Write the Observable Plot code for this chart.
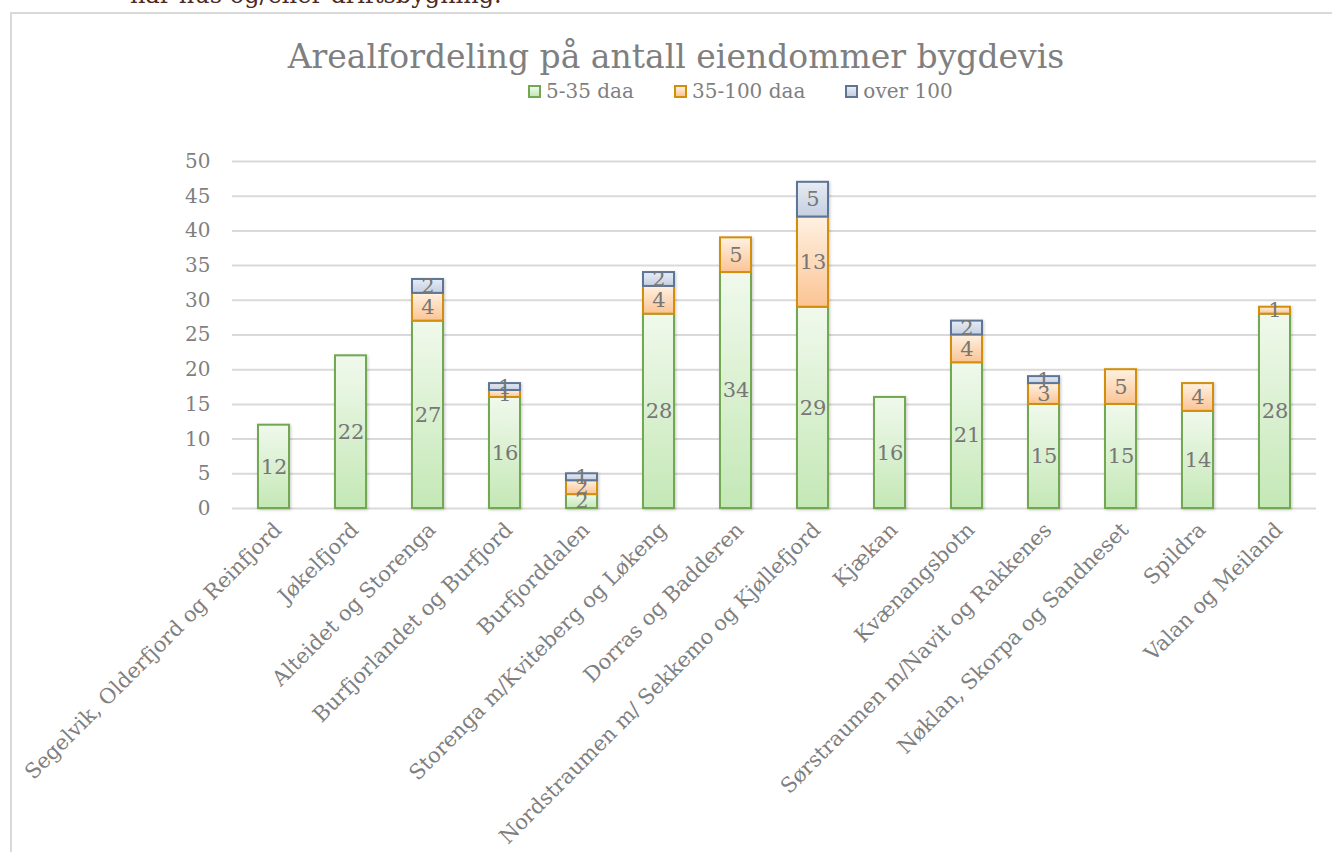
<!DOCTYPE html>
<html><head><meta charset="utf-8">
<script src="https://cdn.jsdelivr.net/npm/d3@7"></script>
<script src="https://cdn.jsdelivr.net/npm/@observablehq/plot@0.6"></script>
<style>
html,body{margin:0;padding:0;background:#fff;overflow:hidden;}
#wrap{position:relative;width:1332px;height:852px;overflow:hidden;font-family:"DejaVu Serif",serif;}
#frame{position:absolute;left:10px;top:12px;width:1340px;height:860px;border:2px solid #d9d9d9;box-sizing:border-box;}
#pretext{position:absolute;left:130px;top:-17px;font-size:24px;line-height:1;color:#4b2a25;white-space:nowrap;}
#title{position:absolute;left:0;width:1352px;top:40px;text-align:center;font-size:33px;color:#7f7f7f;line-height:1;}
#legend{position:absolute;left:528px;top:81px;display:flex;align-items:center;font-size:20px;color:#7f7f7f;line-height:1;}
.item{display:flex;align-items:center;margin-right:40px;}
.sw{width:13px;height:13px;box-sizing:border-box;border:2px solid;margin-right:5px;}
#chart{position:absolute;left:0;top:130px;}
#chart svg g[aria-label="bar"]{filter:drop-shadow(1px 1px 1.5px rgba(0,0,0,0.22));}
</style>
</head><body>
<div id="wrap">
  <div id="pretext">har hus og/eller driftsbygning.</div>
  <div id="frame"></div>
  <div id="title">Arealfordeling på antall eiendommer bygdevis</div>
  <div id="legend"></div>
  <div id="chart"></div>
</div>
<script>
const categories = [
  "Segelvik, Olderfjord og Reinfjord",
  "Jøkelfjord",
  "Alteidet og Storenga",
  "Burfjorlandet og Burfjord",
  "Burfjorddalen",
  "Storenga m/Kviteberg og Løkeng",
  "Dorras og Badderen",
  "Nordstraumen m/ Sekkemo og Kjøllefjord",
  "Kjækan",
  "Kvænangsbotn",
  "Sørstraumen m/Navit og Rakkenes",
  "Nøklan, Skorpa og Sandneset",
  "Spildra",
  "Valan og Meiland"
];
const seriesNames = ["5-35 daa", "35-100 daa", "over 100"];
const small  = [12, 22, 27, 16, 2, 28, 34, 29, 16, 21, 15, 15, 14, 28];
const medium = [ 0,  0,  4,  1, 2,  4,  5, 13,  0,  4,  3,  5,  4,  1];
const large  = [ 0,  0,  2,  1, 1,  2,  0,  5,  0,  2,  1,  0,  0,  0];
const yTicks = [0, 5, 10, 15, 20, 25, 30, 35, 40, 45, 50];

const gradIds = ["gGreen", "gOrange", "gBlue"];
const gradStops = [["#f0f9ec", "#c4e8b6"], ["#fff1e2", "#fbc494"], ["#e7ecf4", "#c4cfe1"]];
const strokes = ["#72a852", "#d28f0c", "#5e7696"];

const rows = [];
categories.forEach((c, i) => {
  [small, medium, large].forEach((arr, k) => {
    if (arr[i] > 0) rows.push({cat: c, series: seriesNames[k], k, value: arr[i]});
  });
});

const plot = Plot.plot({
  width: 1332, height: 722,
  marginTop: 31, marginBottom: 344, marginLeft: 232, marginRight: 16,
  style: {fontFamily: "DejaVu Serif", fontSize: "20px", color: "#7f7f7f", background: "transparent"},
  x: {domain: categories, paddingInner: 0.6, paddingOuter: 0.3, label: null},
  y: {domain: [0, 50], label: null},
  color: {type: "identity"},
  marks: [
    Plot.gridY(yTicks, {stroke: "#d9d9d9", strokeOpacity: 1, strokeWidth: 2}),
    Plot.axisY(yTicks, {tickSize: 0, tickPadding: 22, fontSize: 20, label: null}),
    Plot.axisX({tickRotate: -45, tickSize: 0, tickPadding: 18, dx: 4, fontSize: 21, label: null}),
    Plot.barY(rows, Plot.stackY({
      x: "cat", y: "value", z: "series",
      fill: d => `url(#${gradIds[d.k]})`,
      stroke: d => strokes[d.k], strokeWidth: 2
    })),
    Plot.text(rows, Plot.stackY({
      x: "cat", y: "value", z: "series",
      text: d => String(d.value), fill: "#777777", fontSize: 21
    }))
  ]
});

// gradients
const NS = "http://www.w3.org/2000/svg";
const defs = document.createElementNS(NS, "defs");
gradIds.forEach((id, k) => {
  const g = document.createElementNS(NS, "linearGradient");
  g.setAttribute("id", id);
  g.setAttribute("x1", "0"); g.setAttribute("y1", "0");
  g.setAttribute("x2", "0"); g.setAttribute("y2", "1");
  gradStops[k].forEach((col, j) => {
    const s = document.createElementNS(NS, "stop");
    s.setAttribute("offset", j === 0 ? "0" : "1");
    s.setAttribute("stop-color", col);
    g.appendChild(s);
  });
  defs.appendChild(g);
});
plot.insertBefore(defs, plot.firstChild);
document.getElementById("chart").appendChild(plot);

// legend
const legend = document.getElementById("legend");
seriesNames.forEach((name, k) => {
  const item = document.createElement("div");
  item.className = "item";
  const sw = document.createElement("div");
  sw.className = "sw";
  sw.style.borderColor = strokes[k];
  sw.style.background = `linear-gradient(${gradStops[k][0]}, ${gradStops[k][1]})`;
  const t = document.createElement("span");
  t.textContent = name;
  item.appendChild(sw); item.appendChild(t);
  legend.appendChild(item);
});
</script>
</body></html>
